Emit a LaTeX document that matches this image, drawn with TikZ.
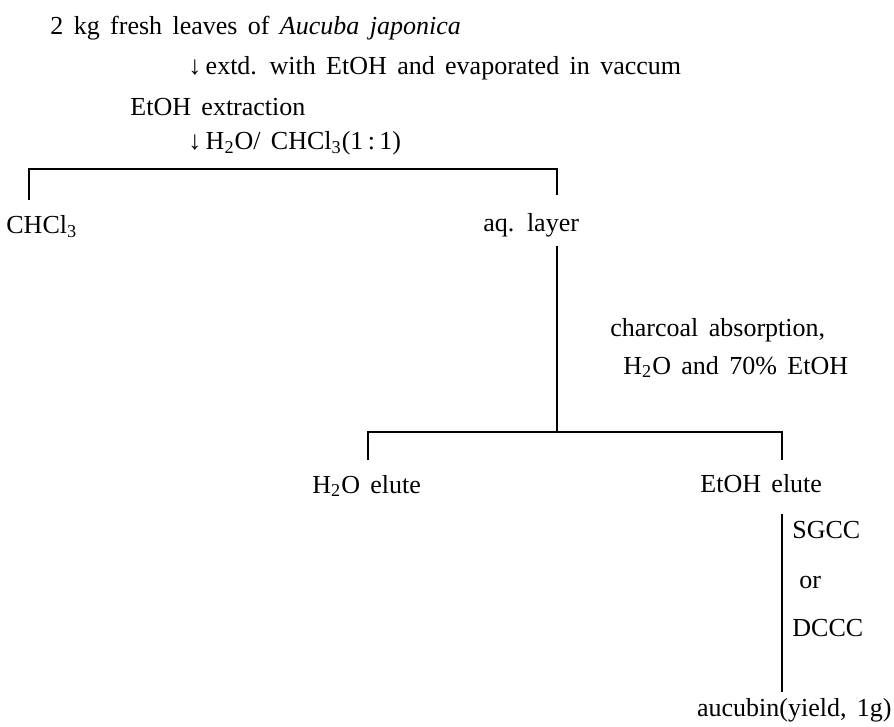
\documentclass[tikz,border=0pt]{standalone}
\usepackage{fontspec}
\setmainfont[WordSpace=1.6]{Liberation Serif}
\usetikzlibrary{positioning}
\tikzstyle{txt} = [inner sep=0pt, anchor=base west, font=\fontsize{13}{15}\selectfont]
\tikzstyle{line} = [draw, line width=0.9pt]

\begin{document}
\begin{tikzpicture}[x=0.5pt, y=-0.5pt]
	\useasboundingbox (0,0) rectangle (894,727);
	\node [txt] (Leaves) at (50,35) {2 kg fresh leaves of \textit{Aucuba japonica}};
	\node [txt] (Extd) at (188,75) {↓\,extd. with EtOH and evaporated in vaccum};
	\node [txt] (Extraction) at (130,116) {EtOH extraction};
	\node [txt] (Partition) at (188,150) {↓\,H\textsubscript{2}O/ CHCl\textsubscript{3}(1\,:\,1)};
	\node [txt] (Chcl) at (6,234) {CHCl\textsubscript{3}};
	\node [txt] (AqLayer) at (483,232) {aq. layer};
	\node [txt] (Charcoal) at (610,336) {charcoal absorption,};
	\node [txt] (Eluent) at (623,374) {H\textsubscript{2}O and 70\% EtOH};
	\node [txt] (WaterElute) at (312,493) {H\textsubscript{2}O elute};
	\node [txt] (EtohElute) at (700,492) {EtOH elute};
	\node [txt] (Sgcc) at (792,538) {SGCC};
	\node [txt] (Or) at (799,588) {or};
	\node [txt] (Dccc) at (792,636) {DCCC};
	\node [txt, anchor=base east] (Aucubin) at (892,716) {aucubin(yield, 1g)};

	% first split
	\coordinate (ChclTop) at (29,200);
	\coordinate (AqTop) at (557,195);
	\coordinate (Split) at (557,169);
	\draw [line] (ChclTop) |- (Split) -- (AqTop);

	% charcoal column
	\coordinate (AqBottom) at (557,246);
	\coordinate (Split2) at (557,432);
	\coordinate (WaterTop) at (368,460);
	\coordinate (EtohTop) at (782,460);
	\draw [line] (AqBottom) -- (Split2);
	\draw [line] (WaterTop) |- (Split2) -| (EtohTop);

	% chromatography
	\coordinate (EtohBottom) at (782,514);
	\coordinate (AucubinTop) at (782,692);
	\draw [line] (EtohBottom) -- (AucubinTop);
\end{tikzpicture}
\end{document}
